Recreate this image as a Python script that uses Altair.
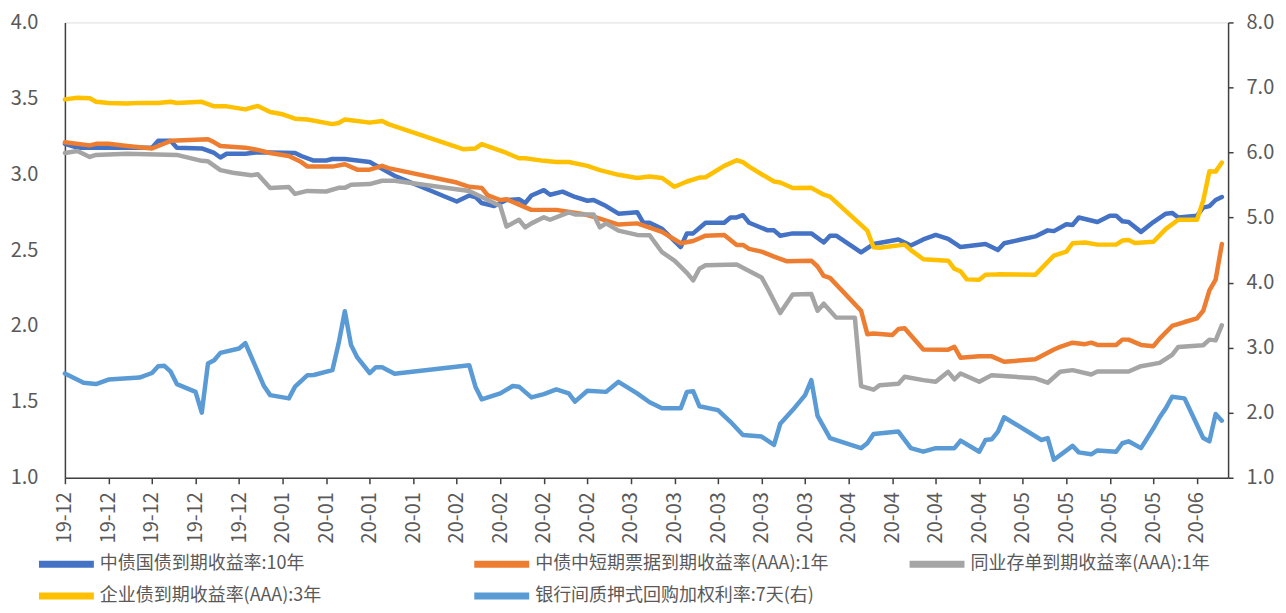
import altair as alt
import pandas as pd

START = "2019-12-02"

names = [
    "中债国债到期收益率:10年",
    "中债中短期票据到期收益率(AAA):1年",
    "同业存单到期收益率(AAA):1年",
    "企业债到期收益率(AAA):3年",
    "银行间质押式回购加权利率:7天(右)",
]
colors = ["#4472C4", "#ED7D31", "#A5A5A5", "#FFC000", "#5B9BD5"]

tick_dates = [
    "2019-12-02", "2019-12-09", "2019-12-16", "2019-12-23", "2019-12-30",
    "2020-01-06", "2020-01-13", "2020-01-20", "2020-01-27",
    "2020-02-03", "2020-02-10", "2020-02-17", "2020-02-24",
    "2020-03-02", "2020-03-09", "2020-03-16", "2020-03-23", "2020-03-30",
    "2020-04-06", "2020-04-13", "2020-04-20", "2020-04-27",
    "2020-05-04", "2020-05-11", "2020-05-18", "2020-05-25",
    "2020-06-01",
]
left_ticks = [1.0, 1.5, 2.0, 2.5, 3.0, 3.5, 4.0]
right_ticks = [1.0, 2.0, 3.0, 4.0, 5.0, 6.0, 7.0, 8.0]

# day offsets from 2019-12-02 and values (%)
gov10_day = [0, 2, 14, 15, 17, 18, 22, 24, 25, 26, 29, 31, 37, 38, 40, 42, 43, 45, 47, 49, 51, 53,
             63, 65, 66, 67, 69, 71, 73, 74, 75, 77, 78, 80, 82, 84, 85, 87, 89, 92, 93, 94, 96, 99,
             100, 101, 103, 106, 107, 108, 109, 110, 113, 114, 115, 117, 120, 122, 123, 124, 128,
             130, 134, 135, 136, 138, 140, 142, 144, 146, 148, 150, 151, 156, 158, 159, 161, 162,
             163, 166, 168, 169, 170, 171, 173, 175, 177, 178, 179, 182, 183, 184, 185, 186]
gov10_val = [3.20, 3.175, 3.175, 3.22, 3.22, 3.175, 3.17, 3.14, 3.11, 3.135, 3.135, 3.145, 3.14, 3.12,
             3.09, 3.09, 3.10, 3.10, 3.09, 3.08, 3.035, 2.99, 2.82, 2.86, 2.85, 2.81, 2.79, 2.83,
             2.835, 2.81, 2.86, 2.895, 2.865, 2.885, 2.85, 2.825, 2.83, 2.79, 2.74, 2.75, 2.68, 2.68,
             2.64, 2.52, 2.61, 2.61, 2.68, 2.68, 2.715, 2.715, 2.73, 2.68, 2.63, 2.63, 2.595, 2.61,
             2.61, 2.55, 2.595, 2.595, 2.485, 2.54, 2.57, 2.55, 2.53, 2.57, 2.60, 2.574, 2.52, 2.53,
             2.54, 2.50, 2.545, 2.59, 2.63, 2.625, 2.67, 2.665, 2.715, 2.685, 2.727, 2.727, 2.69,
             2.685, 2.62, 2.685, 2.74, 2.745, 2.715, 2.727, 2.78, 2.79, 2.83, 2.85]

mtn1_day = [0, 4, 5, 7, 10, 14, 15, 17, 22, 23, 24, 25, 29, 31, 33, 36, 38, 39, 43, 45, 47, 49, 51,
            52, 63, 65, 67, 68, 70, 71, 73, 75, 79, 83, 85, 89, 92, 96, 99, 101, 103, 106, 108, 109,
            110, 112, 114, 116, 120, 121, 122, 123, 128, 129, 130, 133, 134, 135, 138, 142, 143, 144,
            147, 149, 151, 156, 159, 160, 162, 164, 165, 166, 169, 170, 171, 173, 175, 176, 178, 180,
            182, 183, 184, 185, 186]
mtn1_val = [3.21, 3.19, 3.20, 3.20, 3.186, 3.17, 3.186, 3.22, 3.228, 3.23, 3.21, 3.186, 3.175, 3.16,
            3.14, 3.12, 3.08, 3.05, 3.05, 3.066, 3.03, 3.03, 3.055, 3.04, 2.945, 2.917, 2.91, 2.86,
            2.83, 2.835, 2.80, 2.765, 2.765, 2.74, 2.72, 2.668, 2.676, 2.62, 2.545, 2.56, 2.595, 2.60,
            2.534, 2.534, 2.508, 2.49, 2.457, 2.427, 2.43, 2.392, 2.33, 2.317, 2.10, 1.946, 1.95,
            1.94, 1.98, 1.985, 1.845, 1.844, 1.862, 1.79, 1.80, 1.80, 1.764, 1.78, 1.845, 1.862,
            1.89, 1.88, 1.89, 1.875, 1.875, 1.91, 1.91, 1.875, 1.867, 1.917, 2.0, 2.026, 2.05, 2.10,
            2.234, 2.305, 2.54]

ncd1_day = [0, 2, 4, 5, 10, 18, 22, 23, 25, 27, 30, 31, 33, 36, 37, 39, 42, 44, 45, 46, 49, 51, 53,
            65, 67, 70, 71, 73, 74, 75, 77, 78, 81, 82, 85, 86, 87, 89, 92, 94, 96, 98, 100, 101,
            102, 103, 108, 112, 113, 115, 117, 120, 121, 122, 124, 127, 128, 130, 131, 134, 135,
            138, 140, 142, 143, 144, 147, 149, 156, 158, 160, 162, 165, 166, 171, 173, 176, 178,
            179, 183, 184, 185, 186]
ncd1_val = [3.14, 3.153, 3.114, 3.127, 3.135, 3.127, 3.088, 3.085, 3.027, 3.01, 2.993, 3.0, 2.909,
            2.915, 2.87, 2.89, 2.886, 2.91, 2.91, 2.93, 2.935, 2.957, 2.957, 2.89, 2.85, 2.79, 2.655,
            2.70, 2.65, 2.676, 2.716, 2.70, 2.748, 2.735, 2.735, 2.65, 2.676, 2.628, 2.60, 2.598,
            2.486, 2.43, 2.35, 2.30, 2.377, 2.40, 2.405, 2.32, 2.245, 2.085, 2.208, 2.21, 2.10,
            2.147, 2.055, 2.055, 1.604, 1.58, 1.61, 1.62, 1.665, 1.643, 1.632, 1.698, 1.648, 1.687,
            1.632, 1.676, 1.655, 1.626, 1.698, 1.709, 1.68, 1.70, 1.70, 1.735, 1.757, 1.81, 1.862,
            1.873, 1.91, 1.905, 2.005]

corp3_day = [0, 2, 4, 5, 7, 10, 12, 15, 17, 18, 22, 24, 26, 29, 31, 33, 35, 37, 39, 43, 44, 45, 47,
             49, 51, 52, 64, 66, 67, 71, 73, 74, 77, 79, 81, 84, 86, 89, 92, 94, 96, 98, 100, 102,
             103, 106, 108, 109, 110, 112, 114, 115, 117, 120, 122, 123, 129, 130, 131, 135, 136,
             138, 142, 143, 144, 145, 147, 148, 150, 156, 159, 161, 162, 164, 166, 169, 170, 171,
             172, 175, 177, 179, 182, 183, 184, 185, 186]
corp3_val = [3.493, 3.504, 3.50, 3.477, 3.469, 3.466, 3.47, 3.469, 3.477, 3.469, 3.477, 3.447, 3.447,
             3.427, 3.45, 3.41, 3.395, 3.366, 3.36, 3.33, 3.337, 3.36, 3.35, 3.34, 3.35, 3.33, 3.165,
             3.17, 3.198, 3.14, 3.105, 3.105, 3.088, 3.08, 3.08, 3.055, 3.027, 2.996, 2.975, 2.985,
             2.975, 2.917, 2.952, 2.978, 2.98, 3.055, 3.092, 3.08, 3.05, 3.0, 2.952, 2.945, 2.909,
             2.91, 2.865, 2.852, 2.628, 2.519, 2.515, 2.536, 2.50, 2.44, 2.43, 2.377, 2.36, 2.307,
             2.305, 2.337, 2.34, 2.337, 2.464, 2.49, 2.545, 2.55, 2.536, 2.536, 2.563, 2.567, 2.547,
             2.555, 2.64, 2.70, 2.70, 2.825, 3.02, 3.017, 3.077]

repo7_day = [0, 3, 5, 7, 12, 14, 15, 16, 17, 18, 21, 22, 23, 24, 25, 28, 29, 32, 33, 36, 37, 39, 40,
             43, 44, 45, 46, 47, 49, 50, 51, 53, 65, 66, 67, 70, 72, 73, 75, 77, 79, 81, 82, 84, 87,
             89, 92, 94, 96, 99, 100, 101, 102, 105, 107, 109, 112, 114, 115, 117, 119, 120, 121,
             123, 128, 129, 130, 134, 136, 138, 140, 143, 144, 147, 148, 149, 150, 151, 157, 158,
             159, 162, 163, 165, 166, 169, 170, 171, 173, 175, 176, 177, 178, 180, 183, 184, 185, 186]
repo7_val = [2.603, 2.46, 2.44, 2.51, 2.54, 2.61, 2.715, 2.72, 2.63, 2.44, 2.32, 2.0, 2.756, 2.807,
             2.92, 2.986, 3.07, 2.41, 2.27, 2.22, 2.40, 2.577, 2.58, 2.654, 3.063, 3.56, 3.04, 2.85,
             2.61, 2.70, 2.70, 2.60, 2.73, 2.40, 2.205, 2.297, 2.41, 2.40, 2.235, 2.286, 2.358,
             2.297, 2.17, 2.337, 2.32, 2.475, 2.297, 2.16, 2.067, 2.067, 2.32, 2.33, 2.10, 2.04,
             1.86, 1.658, 1.633, 1.505, 1.83, 2.04, 2.27, 2.50, 1.95, 1.61, 1.455, 1.53, 1.674, 1.71,
             1.455, 1.40, 1.455, 1.455, 1.57, 1.40, 1.58, 1.59, 1.71, 1.93, 1.58, 1.61, 1.276, 1.49,
             1.39, 1.36, 1.42, 1.40, 1.53, 1.56, 1.455, 1.76, 1.93, 2.07, 2.245, 2.22, 1.61, 1.56,
             1.98, 1.877]


def build(name, days, vals):
    return pd.DataFrame({
        "date": pd.Timestamp(START) + pd.to_timedelta(days, unit="D"),
        "value": vals,
        "series": name,
    })


left_df = pd.concat([
    build(names[0], gov10_day, gov10_val),
    build(names[1], mtn1_day, mtn1_val),
    build(names[2], ncd1_day, ncd1_val),
    build(names[3], corp3_day, corp3_val),
], ignore_index=True)
right_df = build(names[4], repo7_day, repo7_val)


def dt(s):
    return alt.DateTime(year=int(s[:4]), month=int(s[5:7]), date=int(s[8:10]))


FONT = "Noto Sans CJK SC"
LABEL = "#595959"
AXIS = "#404040"

x_enc = alt.X(
    "date:T", title=None,
    scale=alt.Scale(domain=[dt("2019-12-02"), dt("2020-06-06")]),
    axis=alt.Axis(values=[dt(s) for s in tick_dates], format="%y-%m", labelAngle=270,
                  labelFont=FONT, labelFontSize=20, labelColor=LABEL, labelPadding=8,
                  labelOverlap=False, labelFlush=False, tickSize=6, tickWidth=1.5,
                  tickColor=AXIS, domainColor=AXIS, domainWidth=1.5, grid=False),
)

color_enc = alt.Color(
    "series:N",
    scale=alt.Scale(domain=names, range=colors),
    legend=alt.Legend(orient="none", legendX=-30, legendY=525, direction="horizontal",
                      columns=3, title=None, symbolType="M-2,0H2", symbolSize=756,
                      symbolStrokeWidth=7, symbolOffset=14, labelFont=FONT, labelFontSize=18,
                      labelColor=LABEL, labelLimit=500, columnPadding=67, rowPadding=0,
                      gridAlign="all", labelOffset=16),
)

left = alt.Chart(left_df).mark_line(strokeWidth=4.5, strokeJoin="round", strokeCap="round").encode(
    x=x_enc,
    y=alt.Y("value:Q", title=None,
            scale=alt.Scale(domain=[1, 4], nice=False, zero=False),
            axis=alt.Axis(values=left_ticks, format=".1f", labelFont=FONT, labelFontSize=20,
                          labelColor=LABEL, ticks=False, tickSize=0, labelPadding=27,
                          domainColor=AXIS, domainWidth=1.5, grid=False)),
    color=color_enc,
)

right = alt.Chart(right_df).mark_line(strokeWidth=4.5, strokeJoin="round", strokeCap="round").encode(
    x=x_enc,
    y=alt.Y("value:Q", title=None,
            scale=alt.Scale(domain=[1, 8], nice=False, zero=False),
            axis=alt.Axis(orient="right", values=right_ticks, format=".1f", labelFont=FONT,
                          labelFontSize=20, labelColor=LABEL, tickSize=5, tickWidth=1.5,
                          tickColor=AXIS, labelPadding=13, domainColor=AXIS, domainWidth=1.5,
                          grid=False)),
    color=color_enc,
)

chart = alt.layer(left, right).resolve_scale(y="independent").properties(
    width=1165, height=456,
    autosize=alt.AutoSizeParams(type="none"),
    padding={"left": 57, "top": 14, "right": 50, "bottom": 127},
).configure_view(strokeWidth=0).configure(font=FONT)

chart.save("out.html", embed_options={"renderer": "svg", "actions": False})
